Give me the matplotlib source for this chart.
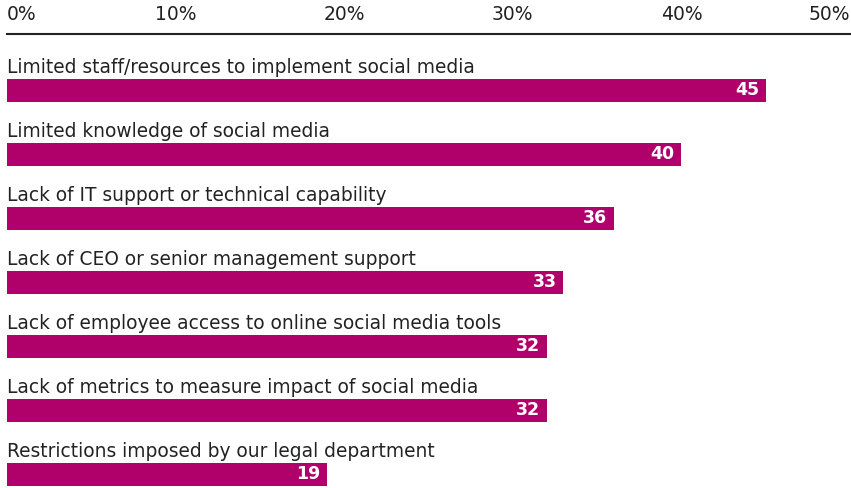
import matplotlib.pyplot as plt

# survey answers, top to bottom
labels = [
    "Limited staff/resources to implement social media",
    "Limited knowledge of social media",
    "Lack of IT support or technical capability",
    "Lack of CEO or senior management support",
    "Lack of employee access to online social media tools",
    "Lack of metrics to measure impact of social media",
    "Restrictions imposed by our legal department",
]
values = [45, 40, 36, 33, 32, 32, 19]
ticks = [0, 10, 20, 30, 40, 50]
tick_labels = ["0%", "10%", "20%", "30%", "40%", "50%"]

bar_color = "#B0006A"
plt.rcParams['font.family'] = ['DejaVu Sans']

fig = plt.figure(figsize=(8.51, 4.89), dpi=100)
ax = fig.add_axes([7 / 851, 0, 843 / 851, (489 - 35) / 489])

pos = list(range(len(values)))
ax.barh(pos, values, height=0.36, color=bar_color)

for i in pos:
    ax.text(0, i - 0.29, labels[i], fontsize=13.4, color="#222222",
            ha="left", va="baseline")
    ax.text(values[i] - 0.4, i - 0.02, str(values[i]), fontsize=12.5,
            color="white", fontweight="bold", ha="right", va="center")

ax.set_xlim(0, 50)
ax.set_ylim(6.211, -0.883)
ax.xaxis.tick_top()
ax.set_xticks(ticks)
ax.set_xticklabels(tick_labels, fontsize=13.5, color="#222222")
xl = ax.get_xticklabels()
xl[0].set_ha("left")
xl[-1].set_ha("right")
ax.tick_params(axis="x", length=0, pad=8)
ax.set_yticks([])
for s in ["bottom", "left", "right"]:
    ax.spines[s].set_visible(False)
ax.spines["top"].set_linewidth(1.5)
ax.spines["top"].set_color("#222222")

fig.savefig("out.png", dpi=100)
